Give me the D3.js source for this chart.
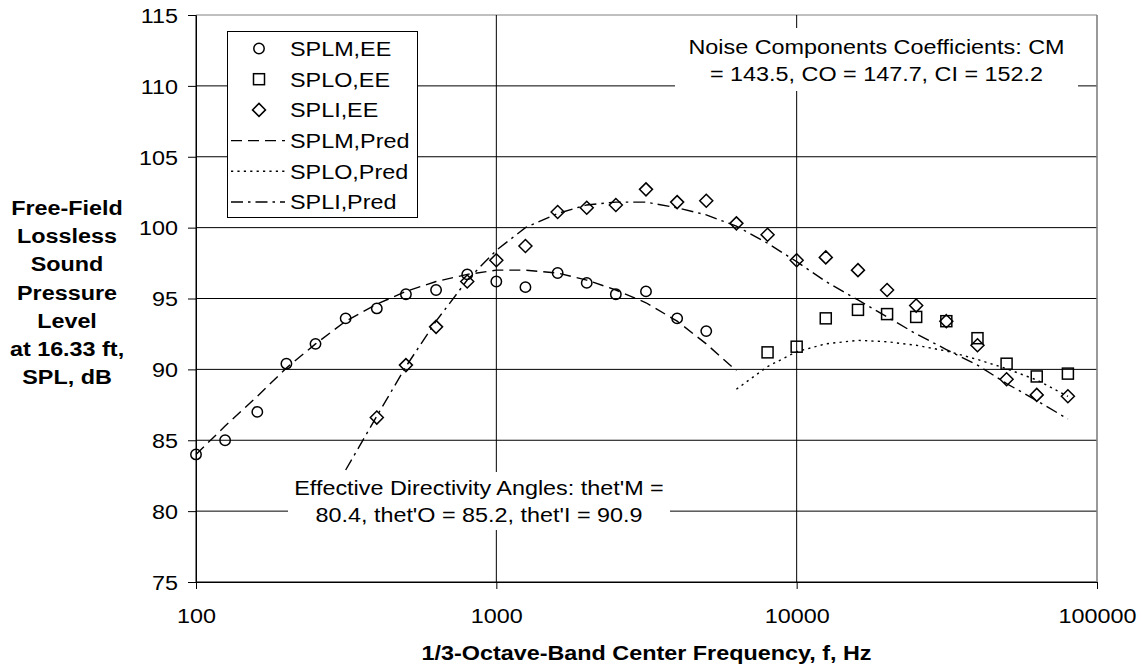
<!DOCTYPE html>
<html>
<head>
<meta charset="utf-8">
<script src="https://cdn.jsdelivr.net/npm/d3@7"></script>
<style>
  html, body { margin: 0; padding: 0; background: #fff; }
  svg { display: block; font-family: Arial, "Liberation Sans", sans-serif; }
</style>
</head>
<body>
<svg id="chart" width="1143" height="668"></svg>
<script>
// 1/3-octave band centre frequencies (Hz)
const bandsM  = [100,125,160,200,250,315,400,500,630,800,1000,1250,1600,2000,2500,3150,4000,5000];
const bandsMP = [100,125,160,200,250,315,400,500,630,800,1000,1250,1600,2000,2500,3150,4000,5000,6300];
const bandsO  = [8000,10000,12500,16000,20000,25000,31500,40000,50000,63000,80000];
const bandsOP = [6300,8000,10000,12500,16000,20000,25000,31500,40000,50000,63000,80000];
const bandsI  = [400,500,630,800,1000,1250,1600,2000,2500,3150,4000,5000,6300,8000,10000,12500,16000,20000,25000,31500,40000,50000,63000,80000];
const bandsIP = [315,400,500,630,800,1000,1250,1600,2000,2500,3150,4000,5000,6300,8000,10000,12500,16000,20000,25000,31500,40000,50000,63000,80000];

// Experimental (EE) sound pressure levels, dB
const splmEE = [84.0,85.0,87.0,90.4,91.8,93.6,94.3,95.3,95.6,96.7,96.2,95.8,96.8,96.1,95.3,95.5,93.6,92.7];
const sploEE = [91.2,91.6,93.6,94.2,93.9,93.7,93.4,92.2,90.4,89.5,89.7];
const spliEE = [86.6,90.3,93.0,96.2,97.7,98.7,101.1,101.4,101.6,102.7,101.8,101.9,100.3,99.5,97.7,97.9,97.0,95.6,94.5,93.4,91.7,89.3,88.2,88.1];

// Predicted sound pressure levels, dB
const splmPred = [84.0,86.0,88.1,90.1,91.8,93.4,94.6,95.5,96.2,96.7,97.0,97.0,96.8,96.3,95.6,94.7,93.4,91.8,89.9];
const sploPred = [88.6,90.2,91.25,91.8,92.05,91.95,91.7,91.3,90.7,90.05,89.25,88.1];
const spliPred = [82.9,86.7,90.2,93.4,96.3,98.4,100.0,101.0,101.6,101.8,101.8,101.4,100.9,100.1,98.9,97.6,96.2,94.9,93.7,92.5,91.4,90.3,89.0,87.8,86.5];

// Axis ticks
const xTicks = [100,1000,10000,100000];
const yTicks = [75,80,85,90,95,100,105,110,115];

// Text labels
const legendLabels = ["SPLM,EE","SPLO,EE","SPLI,EE","SPLM,Pred","SPLO,Pred","SPLI,Pred"];
const yTitleLines = ["Free-Field","Lossless","Sound","Pressure","Level","at 16.33 ft,","SPL, dB"];
const xTitle = "1/3-Octave-Band Center Frequency, f, Hz";
const noteCoef = ["Noise Components Coefficients: CM","= 143.5, CO = 147.7, CI = 152.2"];
const noteAngles = ["Effective Directivity Angles: thet'M =","80.4, thet'O = 85.2, thet'I = 90.9"];

// ---- layout ----
const FS = 20.5;      // font size
const SX = 1.14;      // horizontal glyph stretch
const plot = {left: 196, right: 1097, top: 15, bottom: 582};

const svg = d3.select("#chart");
svg.append("rect").attr("width",1143).attr("height",668).attr("fill","#fff");

const x = d3.scaleLog().domain([100,100000]).range([plot.left, plot.right]);
const y = d3.scaleLinear().domain([75,115]).range([plot.bottom, plot.top]);

function label(g, px, py, str, anchor, weight) {
  return g.append("text")
    .attr("transform", `translate(${px},${py}) scale(${SX},1)`)
    .attr("text-anchor", anchor || "start")
    .attr("font-size", FS)
    .attr("font-weight", weight || "normal")
    .attr("fill", "#000")
    .text(str);
}

// gridlines
const grid = svg.append("g");
grid.selectAll("line.h").data(yTicks).join("line")
  .attr("x1", plot.left).attr("x2", plot.right)
  .attr("y1", d => y(d)).attr("y2", d => y(d))
  .attr("stroke", d => d === 115 ? "#808080" : "#000").attr("stroke-width", 1);
grid.selectAll("line.v").data(xTicks).join("line")
  .attr("x1", d => x(d)).attr("x2", d => x(d))
  .attr("y1", plot.top).attr("y2", plot.bottom)
  .attr("stroke", d => d === 100000 ? "#808080" : "#000")
  .attr("stroke-width", d => d === 100000 ? 1.6 : 1);

// axes
const xAxis = svg.append("g").attr("transform", `translate(0,${plot.bottom})`)
  .call(d3.axisBottom(x).tickValues(xTicks).tickFormat(d3.format("d")).tickSize(7).tickSizeOuter(0));
xAxis.select(".domain").attr("stroke","#000");
xAxis.selectAll(".tick line").attr("stroke","#000");
xAxis.selectAll(".tick text")
  .attr("y", 0).attr("dy", 0)
  .attr("transform", `translate(0,41) scale(${SX},1)`)
  .attr("font-size", FS).attr("font-family", null).attr("fill","#000");

const yAxis = svg.append("g").attr("transform", `translate(${plot.left},0)`)
  .call(d3.axisLeft(y).tickValues(yTicks).tickSize(8).tickSizeOuter(0));
yAxis.select(".domain").attr("stroke","#000");
yAxis.selectAll(".tick line").attr("stroke","#000");
yAxis.selectAll(".tick text")
  .attr("x", 0).attr("dy", 0)
  .attr("transform", `translate(-18,7.3) scale(${SX},1)`)
  .attr("font-size", FS).attr("font-family", null).attr("fill","#000");

// text boxes with white backgrounds
const notes = svg.append("g");
notes.append("rect").attr("x",675).attr("y",28).attr("width",403).attr("height",63).attr("fill","#fff");
noteCoef.forEach((t,i) => label(notes, 876.5, 54 + i*27, t, "middle"));
notes.append("rect").attr("x",288).attr("y",472).attr("width",382).attr("height",58).attr("fill","#fff");
noteAngles.forEach((t,i) => label(notes, 479, 495 + i*27, t, "middle"));

// predicted curves
const lineGen = d3.line().x(d => x(d[0])).y(d => y(d[1]));
const dashM = "11,6", dashO = "2.2,4.2", dashI = "12,5,2.5,5";
const curves = [
  {f: bandsMP, v: splmPred, dash: dashM},
  {f: bandsOP, v: sploPred, dash: dashO},
  {f: bandsIP, v: spliPred, dash: dashI}
];
const lines = svg.append("g");
curves.forEach(c => {
  lines.append("path")
    .datum(c.f.map((f,i) => [f, c.v[i]]))
    .attr("d", lineGen)
    .attr("fill","none").attr("stroke","#000").attr("stroke-width",1.4)
    .attr("stroke-dasharray", c.dash);
});

// marker symbols
function drawMarker(g, kind, cx, cy) {
  const sw = 1.5;
  if (kind === "circle") {
    g.append("circle").attr("cx",cx).attr("cy",cy).attr("r",5.2)
      .attr("fill","none").attr("stroke","#000").attr("stroke-width",sw);
  } else if (kind === "square") {
    g.append("rect").attr("x",cx-5.5).attr("y",cy-5.5).attr("width",11).attr("height",11)
      .attr("fill","none").attr("stroke","#000").attr("stroke-width",sw);
  } else {
    const r = 6.5;
    g.append("path").attr("d",`M${cx},${cy-r}L${cx+r},${cy}L${cx},${cy+r}L${cx-r},${cy}Z`)
      .attr("fill","none").attr("stroke","#000").attr("stroke-width",sw);
  }
}
const pts = svg.append("g");
[
  {f: bandsM, v: splmEE, kind: "circle"},
  {f: bandsO, v: sploEE, kind: "square"},
  {f: bandsI, v: spliEE, kind: "diamond"}
].forEach(s => s.f.forEach((f,i) => drawMarker(pts, s.kind, x(f), y(s.v[i]))));

// legend
const leg = svg.append("g");
leg.append("rect").attr("x",227.5).attr("y",31.5).attr("width",190).attr("height",186)
  .attr("fill","#fff").attr("stroke","#000").attr("stroke-width",1);
const legKinds = ["circle","square","diamond"];
const legDash = [dashM, dashO, dashI];
legendLabels.forEach((t,i) => {
  const cy = 48.5 + i*30.7;
  if (i < 3) {
    drawMarker(leg, legKinds[i], 259, cy);
  } else {
    leg.append("line").attr("x1",231).attr("x2",285).attr("y1",cy).attr("y2",cy)
      .attr("stroke","#000").attr("stroke-width",1.4).attr("stroke-dasharray", legDash[i-3]);
  }
  label(leg, 290, cy + 7.3, t, "start");
});

// axis titles
const titles = svg.append("g");
yTitleLines.forEach((t,i) => label(titles, 67, 215 + i*28.2, t, "middle", "bold"));
label(titles, (plot.left + plot.right)/2, 660, xTitle, "middle", "bold");
</script>
</body>
</html>
